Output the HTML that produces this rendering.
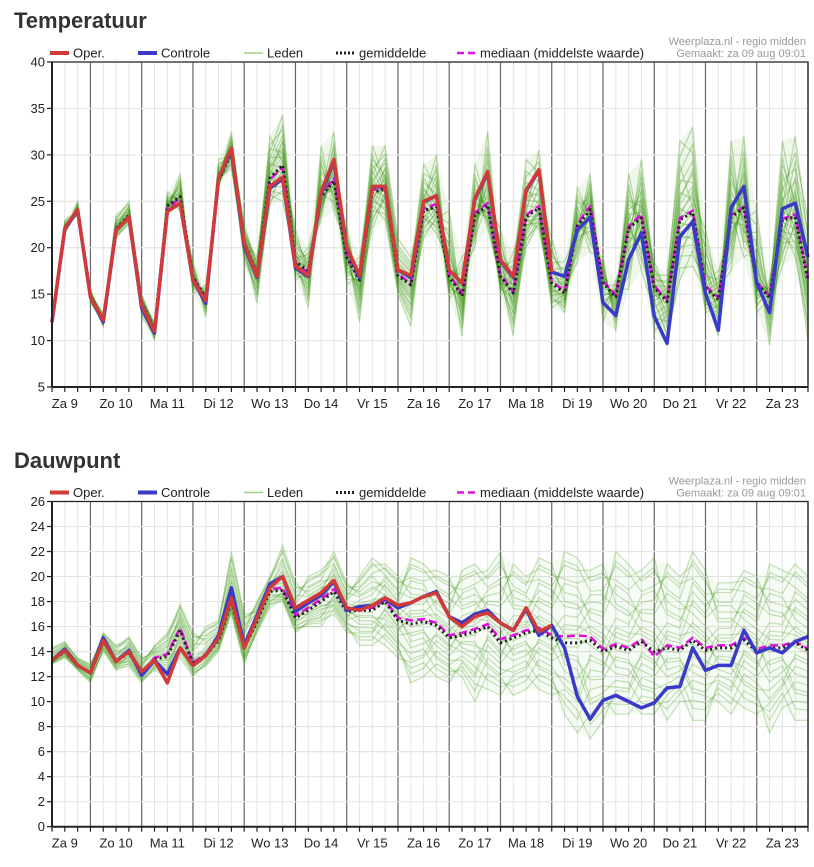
<!DOCTYPE html>
<html><head><meta charset="utf-8">
<style>
html,body{margin:0;padding:0;background:#fff;}
body{width:814px;height:862px;overflow:hidden;font-family:"Liberation Sans",sans-serif;}
svg text{font-family:"Liberation Sans",sans-serif;}
</style></head>
<body>
<svg id="root" width="814" height="862" viewBox="0 0 814 862"></svg>
<script>
// ---- shared categories ----
const dayLabels = ["Za 9","Zo 10","Ma 11","Di 12","Wo 13","Do 14","Vr 15","Za 16","Zo 17","Ma 18","Di 19","Wo 20","Do 21","Vr 22","Za 23"];
// ---- Temperatuur data (6-hourly, from day 9 06h) ----
const tempOper = [12,22.1,24.1,14.7,12.2,21.9,23.3,13.8,11,23.9,24.8,16.5,14.3,27.5,30.7,20.5,16.9,26.6,27.6,18,17,26,29.5,20.1,17,26.6,26.6,17.6,17,25,25.6,17.6,16.2,25.3,28.2,18.7,16.9,26.2,28.4,17.4];
const tempCtrl = [12,22,24,14.7,12,21.9,23.3,13.5,10.8,23.9,24.8,16.5,14,27.5,30.5,20.2,16.8,26.4,27.4,17.8,16.9,25.8,29.3,20,16.8,26.5,26.6,17.6,16.8,24.9,25.6,17.6,16.2,25.2,28,18.6,16.8,26.1,28.3,17.4,16.9,21.9,23.3,14.1,12.7,18.7,21.6,12.6,9.7,21.2,22.8,15.1,11.1,24.3,26.6,16.2,13,24.2,24.8,19];
const tempMean = [12,22,24,14.8,12.1,22,23.5,14,11.2,24.5,25.5,16.8,14.6,27.3,30.2,20.6,17.2,27.5,28.9,18.5,17.5,25.5,27.2,19,16.5,26,26.3,17,16,24,24.4,16.9,14.8,23.5,24.6,16.9,15.1,23.3,24.3,16.2,15.1,22.3,24.1,16.2,14.7,22.1,23.2,15.7,14.2,23,23.8,15.7,14.4,23.3,24.3,16.2,14.6,23,23.3,16.5];
const tempMedian = [12,22,24,14.8,12.1,22,23.4,14,11.1,24.3,25.3,16.8,14.5,27.4,30.3,20.5,17,27.3,28.7,18.4,17.3,25.7,27.5,19.2,16.6,26.2,26.5,17.2,16.1,24.2,24.7,17.1,15.1,23.8,24.8,17.1,15.2,23.5,24.5,16.4,15.3,22.6,24.5,16.4,14.9,22.3,23.6,15.9,14.4,23.2,24,15.9,14.6,23.5,24.4,16.3,14.8,23.1,23.6,16.7];
const tempMax = [12.5,23,25,15.5,13,23.5,25,15,12,26,28,18.5,16,29.5,32.5,22.5,19,32,34.3,22,20,31,32.5,22.5,19,31,31,21,19,29,30,24,19,29,32.5,22,19.5,29.5,30.5,21,18.5,26.5,28,19,16.5,28,29.5,18.5,17,31.5,33,22,17.5,31.5,32,24,16.5,31.5,32,23];
const tempMin = [11.5,21.5,23.5,14,11.5,21,22.5,12.5,10,23.5,24,15,12.5,26.5,28.5,18.5,14,24.5,25,16.5,13.5,23,24,16,12,22,23,15,11.5,21,21.5,14.5,10.5,20,22,15,10.5,20,22,13.5,13,18.5,19.5,12,11,15.5,17.5,11,9.5,16.5,18,13,10.5,17.5,19,13,9.5,18,19,10];
const tempTicks = [5,10,15,20,25,30,35,40];
// ---- Dauwpunt data ----
const dewOper = [13.3,14.1,12.9,12.3,14.9,13.2,14,12.4,13.3,11.5,14.3,12.9,13.7,15.1,18.3,14.3,16.7,19.1,20,17.5,18.1,18.7,19.7,17.5,17.3,17.7,18.3,17.7,17.9,18.4,18.7,16.8,16,16.8,17.1,16.3,15.7,17.5,15.6,16.1];
const dewCtrl = [13.3,14.2,12.9,12.3,15.1,13.2,14.1,12.1,13.3,12.2,14.3,12.9,13.7,15.3,19.1,14.5,16.9,19.4,20,17.2,17.9,18.5,19.6,17.3,17.6,17.7,18.2,17.5,17.9,18.4,18.8,16.8,16.3,17,17.3,16.3,15.7,17.4,15.3,16.1,14.3,10.4,8.6,10.1,10.5,10,9.5,9.9,11.1,11.2,14.3,12.5,12.9,12.9,15.7,13.9,14.3,13.9,14.8,15.2];
const dewMean = [13.3,14,12.9,12.3,14.8,13.2,13.9,12.3,13.4,13.6,15.7,13,13.7,14.9,18,14.3,16.4,18.8,18.9,16.7,17.3,18,18.8,17.2,17.3,17.3,18,16.5,16.2,16.4,16.1,15.1,15.3,15.6,16,14.7,15.1,15.5,15.7,15.1,14.7,14.7,14.9,14,14.4,14.1,14.8,14,14.3,14.1,14.9,14.1,14.3,14.3,14.9,14,14.3,14.3,14.7,14.1];
const dewMedian = [13.3,14.1,12.9,12.3,14.9,13.2,14,12.3,13.5,13.8,15.9,13.1,13.8,15,18.2,14.4,16.6,19,19.1,16.9,17.5,18.2,19,17.4,17.4,17.5,18.1,16.7,16.5,16.6,16.3,15.3,15.5,15.8,16.2,15,15.3,15.7,15.9,15.3,15.2,15.3,15.2,14.2,14.6,14.3,15,13.6,14.5,14.3,15.1,14.3,14.5,14.5,15.1,14.2,14.5,14.5,14.8,14.2];
const dewMax = [14.3,14.8,13.5,13,15.5,14.5,15.2,13.5,14.5,15.5,17.8,15.5,16,16.5,22,17,18,20,22.5,19.5,20,20.5,22,19.5,20,21.5,21,20,21.5,21,20.5,20,20.5,21,20.5,22,21,20,21.5,21,22,21.5,20.5,21,22,21,20.5,21.5,21,20,22,20.5,19.5,19.5,20.5,20,21,20.5,21,20];
const dewMin = [13,13.5,12.5,11.5,14,12.5,12.8,11.5,12.5,12,13.5,12,12.8,14,17,13,15.5,17.5,18,15.5,16,16,17,15.5,14.5,14.5,14.5,13.5,11.5,12,12,11.5,12,10,11,10.5,10.5,11,11,10.5,9,7.5,7,8.5,9,9,9,9,8.5,10,8.5,8.5,10,9,9.5,9,7.5,9.5,8.5,8.5];
const dewTicks = [0,2,4,6,8,10,12,14,16,18,20,22,24,26];

const NS = "http://www.w3.org/2000/svg";
const root = document.getElementById('root');
function mk(tag, attrs, parent){const e=document.createElementNS(NS,tag);for(const k in attrs)e.setAttribute(k,attrs[k]);(parent||root).appendChild(e);return e;}

const X0 = 52, X1 = 808, T0 = 0.25, T1 = 15.0;
function xScale(t){return X0 + (t - T0) * (X1 - X0) / (T1 - T0);}
function xIdx(i){return xScale(T0 + i * 0.25);}

function drawChart(cfg){
  const g = mk('g', {});
  
  
  const yS = v => cfg.yBot - (v - cfg.vMin) * (cfg.yBot - cfg.yTop) / (cfg.vMax - cfg.vMin);
  const title = mk('text', {x:14, y:cfg.titleY, 'font-size':22, 'font-weight':'bold', fill:'#333'}, g);
  title.textContent = cfg.title;
  
  
  for (let t = 0.25; t <= 15.0001; t += 0.25) {
    const x = xScale(t);
    const isDay = Math.abs(t - Math.round(t)) < 1e-6;
    const l = mk('line', {x1:x, x2:x, y1:cfg.yTop, y2:cfg.yBot, stroke: isDay ? '#666' : '#e4e4e4', 'stroke-width': isDay ? 1.2 : 1}, g);
    
    
    const tk = mk('line', {x1:x, x2:x, y1:cfg.yBot, y2:cfg.yBot + 5, stroke:'#222', 'stroke-width':1.2}, g);
    
    
  }
  cfg.ticks.forEach(v => {
    const y = yS(v);
    const l = mk('line', {x1:X0, x2:X1, y1:y, y2:y, stroke:'#e4e4e4', 'stroke-width':1.2}, g);
    
    
    const tk = mk('line', {x1:X0 - 5, x2:X0, y1:y, y2:y, stroke:'#222', 'stroke-width':1.2}, g);
    
    
    const tx = mk('text', {x:X0 - 7, y:y + 4.5, 'font-size':13, fill:'#222', 'text-anchor':'end'}, g);
    tx.textContent = v;
    
    
  });
  dayLabels.forEach((d, k) => {
    const tx = mk('text', {x:xScale(k + 0.5), y:cfg.yBot + 21, 'font-size':13, fill:'#222', 'text-anchor':'middle'}, g);
    tx.textContent = d;
    
    
  });
  let pts = cfg.max.map((v,i)=>xIdx(i)+','+yS(v));
  for (let i = cfg.min.length - 1; i >= 0; i--) pts.push(xIdx(i)+','+yS(cfg.min[i]));
  const env = mk('polygon', {points:pts.join(' '), fill:cfg.envColor, stroke:'none'}, g);
  
  
  const fracs = cfg.fracs;
  const n = fracs.length;
  fracs.forEach((f, k) => {
    const p = cfg.max.map((v,i)=>{
      let ff;
      if (cfg.step === 1) ff = (i % 2 === 0) ? f : fracs[(k + i * 5) % n];
      else {
        const dir = (k % 2 === 0) ? 1 : -1;
        ff = fracs[((k + dir * Math.floor(i / cfg.step)) % n + n) % n];
      }
      const m = cfg.mean[i];
      const val = ff >= 0 ? m + (v - m) * ff : m + (m - cfg.min[i]) * ff;
      return xIdx(i)+','+yS(val);
    }).join(' ');
    const pl = mk('polyline', {points:p, fill:'none', stroke: cfg.memberColor, 'stroke-width':1.2}, g);
    
    
  });
  const line = (arr, attrs, name) => {
    const pl = mk('polyline', Object.assign({points:arr.map((v,i)=>xIdx(i)+','+yS(v)).join(' '), fill:'none', 'stroke-linejoin':'round'}, attrs), g);
    
    
  };
  line(cfg.median, {stroke:'#e010e0', 'stroke-width':2.5, 'stroke-dasharray':'8,4'}, 'median-line');
  line(cfg.mean, {stroke:'#222', 'stroke-width':3, 'stroke-dasharray':'2,3'}, 'mean-line');
  line(cfg.ctrl, {stroke:'#3a3ac8', 'stroke-width':3.5}, 'control-line');
  line(cfg.oper, {stroke:'#d23a3a', 'stroke-width':3.5}, 'oper-line');
  const fr = mk('path', {d:`M${X0},${cfg.yBot} L${X0},${cfg.yTop} L${X1},${cfg.yTop} L${X1},${cfg.yBot}`, fill:'none', stroke:'#222', 'stroke-width':1.3}, g);
  
  
  const xa = mk('line', {x1:X0, x2:X1, y1:cfg.yBot, y2:cfg.yBot, stroke:'#222', 'stroke-width':2}, g);
  
  
  const ya = mk('line', {x1:X0, x2:X0, y1:cfg.yTop, y2:cfg.yBot, stroke:'#222', 'stroke-width':2}, g);
  
  
  const ly = cfg.yTop - 9;
  const leg = mk('g', {}, g);
  
  
  const items = [
    {x:50, label:'Oper.', st:{stroke:'#d23a3a','stroke-width':4}},
    {x:138, label:'Controle', st:{stroke:'#3a3ac8','stroke-width':4}},
    {x:244, label:'Leden', st:{stroke:'#9fd38a','stroke-width':1.5}},
    {x:336, label:'gemiddelde', st:{stroke:'#222','stroke-width':3,'stroke-dasharray':'2,2'}},
    {x:457, label:'mediaan (middelste waarde)', st:{stroke:'#e010e0','stroke-width':2.5,'stroke-dasharray':'7,4'}}
  ];
  items.forEach(it => {
    const e = mk('g', {}, leg);
    
    
    mk('line', Object.assign({x1:it.x, x2:it.x + 19, y1:ly, y2:ly}, it.st), e);
    const t = mk('text', {x:it.x + 23, y:ly + 4.5, 'font-size':13, fill:'#222'}, e);
    t.textContent = it.label;
  });
  const s1 = mk('text', {x:806, y:cfg.yTop - 17, 'font-size':11, fill:'#999', 'text-anchor':'end'}, g);
  s1.textContent = 'Weerplaza.nl - regio midden';
  
  
  const s2 = mk('text', {x:806, y:cfg.yTop - 5, 'font-size':11, fill:'#999', 'text-anchor':'end'}, g);
  s2.textContent = 'Gemaakt: za 09 aug 09:01';
  
  
}

drawChart({name:'temperature-chart', title:'Temperatuur', titleY:28, yTop:62, yBot:387, vMin:5, vMax:40,
  ticks:tempTicks, oper:tempOper, ctrl:tempCtrl, mean:tempMean, median:tempMedian, max:tempMax, min:tempMin,
  memberColor:'rgba(60,150,20,0.32)', envColor:'rgba(120,190,80,0.12)', step:1,
  fracs:[1,-1,0.8,-0.8,0.6,-0.6,0.45,-0.45,0.3,-0.3,0.2,-0.2,0.1,-0.1,0,0.15,-0.15,0.35,-0.35,0.5,-0.5,0.25,-0.25,0.05,-0.05,0.7,-0.7]});
drawChart({name:'dewpoint-chart', title:'Dauwpunt', titleY:468, yTop:501.5, yBot:826.7, vMin:0, vMax:26,
  ticks:dewTicks, oper:dewOper, ctrl:dewCtrl, mean:dewMean, median:dewMedian, max:dewMax, min:dewMin,
  memberColor:'rgba(70,160,30,0.3)', envColor:'rgba(120,190,80,0.06)', step:2,
  fracs:[1,0.85,0.7,0.9,0.55,0.4,0.65,0.3,0.1,0.2,-0.05,0.05,-0.2,-0.4,-0.15,-0.6,-0.5,-0.85,-0.75,-1,-0.65,-0.3,0.15,0.45]});
</script>
</body></html>
